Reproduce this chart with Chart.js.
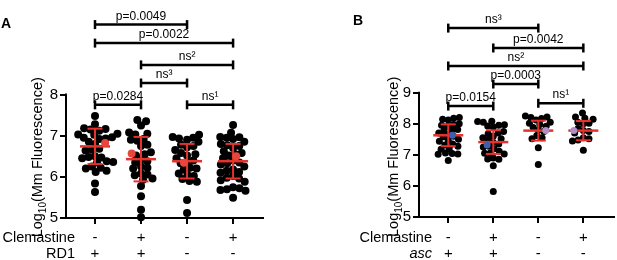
<!DOCTYPE html>
<html><head><meta charset="utf-8">
<script src="https://cdn.jsdelivr.net/npm/chart.js@4.4.1/dist/chart.umd.min.js"></script>
<style>
html,body{margin:0;padding:0;background:#fff;overflow:hidden;width:617px;height:260px;}
#ca{position:absolute;left:0;top:0;}
#cb{position:absolute;left:300px;top:0;}
</style></head><body>
<canvas id="ca" width="300" height="260"></canvas>
<canvas id="cb" width="317" height="260"></canvas>
<script>
// ---------- data ----------
const groupIds = [1, 2, 3, 4];
const clemastineA = ['-', '+', '-', '+'];
const rd1A = ['+', '+', '-', '-'];
const clemastineB = ['-', '+', '-', '+'];
const ascB = ['+', '+', '-', '-'];
const yTicksA = [5, 6, 7, 8];
const yTicksB = [5, 6, 7, 8, 9];

const a1 = [7.48, 7.28, 7.18, 7.16, 7.15, 7.12, 7.05, 7.03, 7.02, 6.96, 6.95, 6.93, 6.92, 6.85, 6.80, 6.68, 6.66, 6.64, 6.50, 6.48, 6.47, 6.45, 6.38, 6.36, 6.35, 6.25, 6.22, 6.20, 6.15, 6.12, 5.84, 5.63];
const a2 = [7.38, 7.35, 7.25, 7.08, 7.05, 7.03, 6.92, 6.90, 6.88, 6.78, 6.75, 6.60, 6.55, 6.52, 6.42, 6.38, 6.35, 6.25, 6.22, 6.20, 6.08, 6.06, 6.04, 5.96, 5.93, 5.78, 5.53, 5.20, 5.02];
const a3 = [7.02, 6.97, 6.95, 6.93, 6.90, 6.85, 6.78, 6.75, 6.72, 6.65, 6.58, 6.55, 6.52, 6.45, 6.40, 6.36, 6.33, 6.22, 6.20, 6.18, 6.08, 6.05, 6.02, 5.95, 5.90, 5.88, 5.44, 5.12];
const a4 = [7.26, 7.07, 6.97, 6.96, 6.95, 6.92, 6.85, 6.80, 6.77, 6.75, 6.70, 6.62, 6.58, 6.55, 6.52, 6.45, 6.40, 6.35, 6.33, 6.30, 6.25, 6.18, 6.15, 6.12, 6.10, 6.02, 5.98, 5.96, 5.92, 5.88, 5.75, 5.72, 5.70, 5.68, 5.66, 5.49];
const meanA = [6.74, 6.43, 6.38, 6.38];
const sdA = [0.43, 0.54, 0.42, 0.42];
const highlightA = [6.82, 6.57, 6.34, 6.50];

const b1 = [8.20, 8.18, 8.15, 8.12, 8.00, 7.98, 7.95, 7.92, 7.82, 7.80, 7.78, 7.70, 7.66, 7.60, 7.58, 7.50, 7.47, 7.44, 7.35, 7.32, 7.28, 7.20, 7.18, 7.06, 7.04, 7.03, 7.02, 6.82];
const b2 = [8.08, 8.07, 8.05, 7.97, 7.95, 7.93, 7.90, 7.75, 7.70, 7.68, 7.60, 7.55, 7.52, 7.48, 7.40, 7.35, 7.28, 7.25, 7.20, 7.12, 7.06, 7.05, 7.03, 6.90, 6.87, 6.86, 6.65, 5.82];
const b3 = [8.25, 8.22, 8.20, 8.17, 8.12, 8.05, 8.02, 7.98, 7.92, 7.88, 7.80, 7.75, 7.62, 7.55, 7.52, 7.23, 6.69];
const b4 = [8.35, 8.22, 8.18, 8.15, 8.05, 8.02, 8.00, 7.85, 7.78, 7.75, 7.70, 7.55, 7.52, 7.48, 7.45, 7.15];
const meanB = [7.63, 7.41, 7.78, 7.78];
const sdB = [0.35, 0.38, 0.32, 0.31];
const highlightB = [7.63, 7.32, 7.78, 7.78];

// significance brackets: [fromGroup, toGroup, level, label]
const bracketsA = [
  [1, 3, 9.70, 'p=0.0049'],
  [1, 4, 9.25, 'p=0.0022'],
  [2, 4, 8.72, 'ns\u00B2'],
  [2, 3, 8.28, 'ns\u00B3'],
  [1, 2, 7.75, 'p=0.0284'],
  [3, 4, 7.75, 'ns\u00B9']
];
const bracketsB = [
  [1, 3, 11.08, 'ns\u00B3'],
  [2, 4, 10.44, 'p=0.0042'],
  [1, 4, 9.86, 'ns\u00B2'],
  [2, 3, 9.28, 'p=0.0003'],
  [1, 2, 8.57, 'p=0.0154'],
  [3, 4, 8.66, 'ns\u00B9']
];

// ---------- drawing ----------
const FONT = "'Liberation Sans', Arial, Helvetica, sans-serif";
const RED = '#e5322d';

function line(ctx, x1, y1, x2, y2) { ctx.beginPath(); ctx.moveTo(x1, y1); ctx.lineTo(x2, y2); ctx.stroke(); }

function makePanel(canvasId, cfg) {
  const deco = {
    id: 'deco',
    // mean +- SD bars: drawn right after the black swarm (dataset 1), before the highlighted points
    afterDatasetDraw(chart, args) {
      if (args.index !== 1) return;
      const { ctx } = chart;
      const x = chart.scales.x, y = chart.scales.y;
      ctx.save();
      ctx.strokeStyle = RED; ctx.lineCap = 'butt';
      cfg.means.forEach((m, i) => {
        const cx = x.getPixelForValue(cfg.cats[i]);
        const ym = y.getPixelForValue(m), yu = y.getPixelForValue(m + cfg.sds[i]), yl = y.getPixelForValue(m - cfg.sds[i]);
        ctx.lineWidth = 2;
        line(ctx, cx, yu, cx, yl);
        line(ctx, cx - 7.5, yu, cx + 7.5, yu);
        line(ctx, cx - 7.5, yl, cx + 7.5, yl);
        ctx.lineWidth = 2.5;
        line(ctx, cx - 15, ym, cx + 15, ym);
      });
      ctx.restore();
    },
    afterDatasetsDraw(chart) {
      const { ctx, chartArea } = chart;
      const x = chart.scales.x, y = chart.scales.y;
      ctx.save();
      ctx.strokeStyle = '#000'; ctx.lineWidth = 2; ctx.lineCap = 'butt';
      line(ctx, chartArea.left, y.getPixelForValue(cfg.yTicks[0]) + 1, chartArea.left, y.getPixelForValue(cfg.yTicks[cfg.yTicks.length - 1]) - 1);
      // brackets
      ctx.strokeStyle = '#000'; ctx.fillStyle = '#000';
      ctx.font = '12px ' + FONT; ctx.textAlign = 'center'; ctx.textBaseline = 'alphabetic';
      cfg.brackets.forEach(([g1, g2, lv, lab]) => {
        const x1 = x.getPixelForValue(g1), x2 = x.getPixelForValue(g2), yy = y.getPixelForValue(lv);
        ctx.lineWidth = 2.5;
        line(ctx, x1, yy, x2, yy);
        line(ctx, x1, yy - 4.5, x1, yy + 4.5);
        line(ctx, x2, yy - 4.5, x2, yy + 4.5);
        ctx.fillText(lab, (x1 + x2) / 2, yy - 5);
      });
      // row labels under x axis
      ctx.textAlign = 'right'; ctx.textBaseline = 'middle';
      const r1 = x.top + 6 + cfg.xPad + 8;
      ctx.font = '14.5px ' + FONT;
      ctx.fillText(cfg.rowNames[0], chartArea.left + cfg.rowDx, r1);
      ctx.font = (cfg.rowItalic ? 'italic ' : '') + '14.5px ' + FONT;
      ctx.fillText(cfg.rowNames[1], chartArea.left + cfg.rowDx, r1 + 16);
      // y title with subscript
      ctx.save();
      ctx.translate(cfg.titleX, (y.getPixelForValue(cfg.yTicks[0]) + y.getPixelForValue(cfg.yTicks[cfg.yTicks.length - 1])) / 2 + cfg.titleDy);
      ctx.rotate(-Math.PI / 2);
      const fMain = '14.5px ' + FONT, fSub = '10px ' + FONT;
      ctx.textAlign = 'left'; ctx.textBaseline = 'alphabetic';
      ctx.font = fMain; const w1 = ctx.measureText('Log').width; const w3 = ctx.measureText('(Mm Fluorescence)').width;
      ctx.font = fSub; const w2 = ctx.measureText('10').width;
      let sx = -(w1 + w2 + w3) / 2;
      ctx.font = fMain; ctx.fillText('Log', sx, 0); sx += w1;
      ctx.font = fSub; ctx.fillText('10', sx, 3.5); sx += w2;
      ctx.font = fMain; ctx.fillText('(Mm Fluorescence)', sx, 0);
      ctx.restore();
      // panel letter
      ctx.font = 'bold 14px ' + FONT; ctx.textAlign = 'left'; ctx.textBaseline = 'alphabetic';
      ctx.fillText(cfg.letter, cfg.letterX, cfg.letterY);
      ctx.restore();
    }
  };

  const chart = new Chart(document.getElementById(canvasId), {
    type: 'scatter',
    data: { datasets: [
      { data: [], backgroundColor: cfg.hiColors, pointRadius: cfg.r, pointBorderWidth: 0, pointHoverRadius: cfg.r, clip: false },
      { data: [], backgroundColor: '#000', pointRadius: cfg.r, pointBorderWidth: 0, pointHoverRadius: cfg.r, clip: false }
    ] },
    options: {
      responsive: false, animation: false, devicePixelRatio: 1, events: [],
      layout: { padding: { left: 0, top: 0, right: cfg.padRight, bottom: 0 } },
      plugins: { legend: { display: false }, tooltip: { enabled: false } },
      scales: {
        x: {
          type: 'linear', min: cfg.xMin, max: cfg.xMax,
          afterBuildTicks: s => { s.ticks = cfg.cats.map(v => ({ value: v })); },
          afterFit: s => { s.height = cfg.xAxisH; },
          ticks: {
            autoSkip: false, maxRotation: 0, color: '#000', padding: cfg.xPad,
            font: { family: FONT, size: 15, lineHeight: 16 / 15 },
            callback: v => { const i = cfg.cats.indexOf(Math.round(v)); return [cfg.row1[i], cfg.row2[i]]; }
          },
          grid: { drawOnChartArea: false, tickLength: 6, color: '#000', lineWidth: 2 },
          border: { display: true, color: '#000', width: 2 }
        },
        y: {
          type: 'linear', min: cfg.yMin, max: cfg.yMax,
          afterBuildTicks: s => { s.ticks = cfg.yTicks.map(v => ({ value: v })); },
          afterFit: s => { s.width = cfg.yAxisW; },
          ticks: { color: '#000', padding: 2, font: { family: FONT, size: 15 }, callback: v => String(v) },
          grid: { drawOnChartArea: false, tickLength: 6, color: '#000', lineWidth: 2 },
          border: { display: false }
        }
      }
    },
    plugins: [deco]
  });

  // beeswarm placement of points (pixel space -> data units)
  const xs = chart.scales.x, ys = chart.scales.y;
  const unit = xs.getPixelForValue(2) - xs.getPixelForValue(1);
  const black = [], hi = [];
  const D = cfg.spacing;
  cfg.groups.forEach((vals, gi) => {
    const py = vals.map(v => ys.getPixelForValue(v));
    const m = cfg.means[gi];
    const order = vals.map((v, i) => i).sort((a, b) => Math.abs(vals[a] - m) - Math.abs(vals[b] - m));
    const placed = [], offs = [];
    let flip = 1;
    order.forEach(i => {
      const yy = py[i];
      const near = placed.filter(p => Math.abs(p.y - yy) < D);
      const cands = [0];
      near.forEach(p => { const dx = Math.sqrt(D * D - (p.y - yy) ** 2); cands.push(p.x - dx, p.x + dx); });
      cands.sort((a, b) => (Math.abs(a) - Math.abs(b)) || (flip * (a - b)));
      flip = -flip;
      const c = cands.find(c => near.every(p => (c - p.x) ** 2 + (p.y - yy) ** 2 >= D * D - 0.01));
      offs[i] = c; placed.push({ x: c, y: yy });
    });
    vals.forEach((v, i) => black.push({ x: cfg.cats[gi] + offs[i] / unit, y: v }));
    // highlighted replicate drawn over the swarm, nudged to one side
    hi.push({ x: cfg.cats[gi] + cfg.hiSide[gi] * 1.2 * D / unit, y: cfg.highlights[gi] });
  });
  chart.data.datasets[0].data = hi;
  chart.data.datasets[1].data = black;
  chart.update('none');
  return chart;
}

makePanel('ca', {
  groups: [a1, a2, a3, a4], means: meanA, sds: sdA, highlights: highlightA, brackets: bracketsA,
  cats: groupIds, row1: clemastineA, row2: rd1A, rowNames: ['Clemastine', 'RD1'], rowItalic: false,
  yTicks: yTicksA, yMin: 5, yMax: 10.03, xMin: 0.37, xMax: 4.65,
  yAxisW: 66, xAxisH: 42, padRight: 37, xPad: 6, rowDx: 9,
  r: 4, spacing: 6.5, hiColors: ['#e8453c', '#e8453c', '#e8453c', '#e8453c'], hiSide: [1.3, -1.2, -0.4, 0.4],
  titleX: 42, titleDy: 1, letter: 'A', letterX: 1, letterY: 28
});
makePanel('cb', {
  groups: [b1, b2, b3, b4], means: meanB, sds: sdB, highlights: highlightB, brackets: bracketsB,
  cats: groupIds, row1: clemastineB, row2: ascB, rowNames: ['Clemastine', 'asc'], rowItalic: true,
  yTicks: yTicksB, yMin: 5, yMax: 11.63, xMin: 0.35, xMax: 4.67,
  yAxisW: 119, xAxisH: 43, padRight: 0, xPad: 7, rowDx: 13,
  r: 3.5, spacing: 5.8, hiColors: ['#3f5fae', '#3f5fae', '#b48cc8', '#b48cc8'], hiSide: [0.6, -0.9, 1.1, -1.4],
  titleX: 98, titleDy: 2, letter: 'B', letterX: 53, letterY: 25
});
</script>
</body></html>
